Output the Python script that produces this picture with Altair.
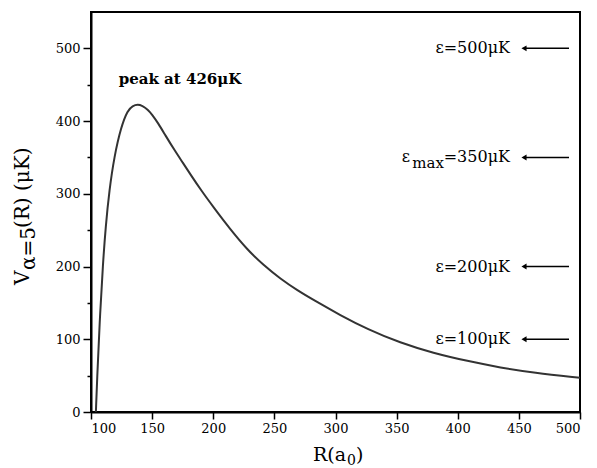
import altair as alt
import pandas as pd

# ---- data ----
R = [104, 105, 107, 109.8, 112, 115, 119, 124.6, 130, 134, 138.3, 142, 146.4, 150,
     154.6, 161, 168.3, 175, 182, 190, 200, 214, 228, 241, 255, 269,
     282, 304, 326, 353, 380, 408, 435, 462, 500]
V = [0, 45, 122, 205, 255, 305, 351, 392, 415, 421, 423, 421, 416, 409,
     398, 380, 360, 343, 325, 305, 282, 251, 223, 202, 183, 167,
     154, 133, 114, 95, 81, 70, 61, 54, 47]

energies = [500, 350, 200, 100]
energy_labels = ["ε=500μK", "=350μK", "ε=200μK", "ε=100μK"]
emax_parts = ["ε", "max"]
peak_label = ["peak at 426μK"]
x_ticks = [100, 150, 200, 250, 300, 350, 400, 450, 500]
y_ticks = [0, 50, 100, 150, 200, 250, 300, 350, 400, 450, 500]
y_title_parts = ["V", "α=5", "(R) (μK)"]
x_title_parts = ["R(a", "0", ")"]

FONT = "DejaVu Serif"
W, H = 489, 400

curve = pd.DataFrame({"R": R, "V": V})
levels = pd.DataFrame({"E": energies, "label": energy_labels})
emax = pd.DataFrame({"E": [energies[1]]})

xs = alt.Scale(domain=[100, 500], nice=False, zero=False)
ys = alt.Scale(domain=[0, 550], nice=False)

x_axis = alt.Axis(values=x_ticks, title=None, tickSize=7, labelPadding=3, grid=False)
y_axis = alt.Axis(
    values=y_ticks, title=None, grid=False, labelPadding=3,
    labelExpr="datum.value % 100 === 0 ? datum.label : ''",
    tickSize={"condition": {"test": "datum.value % 100 === 0", "value": 8}, "value": 4},
)

line = alt.Chart(curve).mark_line(
    color="#333333", strokeWidth=2, clip=True, interpolate="basis"
).encode(
    x=alt.X("R:Q", scale=xs, axis=x_axis),
    y=alt.Y("V:Q", scale=ys, axis=y_axis),
)

arrows = alt.Chart(levels).mark_rule(color="black", strokeWidth=1.5).encode(
    x=alt.value(433), x2=alt.value(478),
    y=alt.Y("E:Q", scale=ys, axis=y_axis),
)
heads = alt.Chart(levels).mark_point(
    shape="triangle-left", filled=True, color="black", size=35, opacity=1
).encode(
    x=alt.value(433),
    y=alt.Y("E:Q", scale=ys, axis=y_axis),
)
labels = alt.Chart(levels).mark_text(
    font=FONT, fontSize=16, align="right", baseline="middle", color="black"
).encode(
    x=alt.value(419),
    y=alt.Y("E:Q", scale=ys, axis=y_axis),
    text="label:N",
)
emax_eps = alt.Chart(emax).mark_text(
    font=FONT, fontSize=16, align="right", baseline="middle", color="black"
).encode(
    x=alt.value(319), y=alt.Y("E:Q", scale=ys, axis=y_axis), text=alt.value(emax_parts[0])
)
emax_sub = alt.Chart(emax).mark_text(
    font=FONT, fontSize=15, align="right", baseline="middle", color="black", dy=6
).encode(
    x=alt.value(353), y=alt.Y("E:Q", scale=ys, axis=y_axis), text=alt.value(emax_parts[1])
)

peak = alt.Chart(pd.DataFrame({"t": peak_label})).mark_text(
    font=FONT, fontSize=15, fontWeight="bold", align="center", baseline="middle", color="black"
).encode(x=alt.value(89), y=alt.value(67), text="t:N")

def piece(txt, x, y, size, angle=0, align="left", baseline="middle"):
    kw = dict(font=FONT, fontSize=size, align=align, baseline=baseline, color="black")
    if angle:
        kw["angle"] = angle
    return alt.Chart(pd.DataFrame({"t": [txt]})).mark_text(**kw).encode(
        x=alt.value(x), y=alt.value(y), text="t:N")

ytitle = [
    piece(y_title_parts[0], -68, 273, 20, angle=270),
    piece(y_title_parts[1], -62, 258, 20, angle=270),
    piece(y_title_parts[2], -68, 216, 20, angle=270),
]
xtitle = [
    piece(x_title_parts[0], 222, 449, 19, baseline="alphabetic"),
    piece(x_title_parts[1], 256, 453, 14, baseline="alphabetic"),
    piece(x_title_parts[2], 265, 449, 19, baseline="alphabetic"),
]

chart = alt.layer(
    line, arrows, heads, labels, emax_eps, emax_sub, peak, *ytitle, *xtitle
).properties(
    width=W, height=H,
    autosize=alt.AutoSizeParams(type="none"),
    padding={"left": 91, "top": 12, "right": 17, "bottom": 56},
    background="white",
).configure_view(
    stroke="black", strokeWidth=2
).configure_axis(
    domainColor="black", domainWidth=2, tickColor="black", tickWidth=1.5,
    labelFont=FONT, labelFontSize=13, labelColor="black",
)

chart.save("out.html", embed_options={"renderer": "svg", "actions": False})
